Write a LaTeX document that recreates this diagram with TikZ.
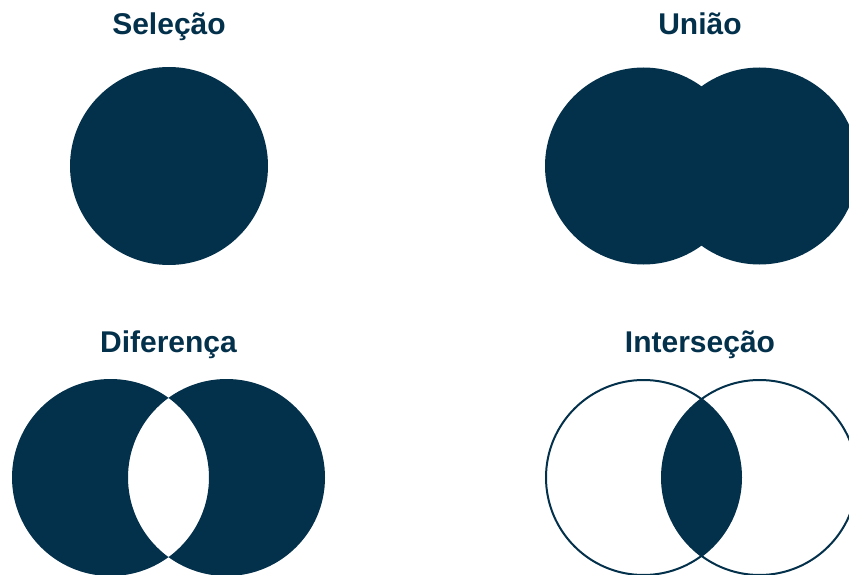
\documentclass[tikz,border=0pt]{standalone}
\usepackage{fontspec}
\setmainfont{Liberation Sans}
\definecolor{setnavy}{HTML}{03304A}

\begin{document}
\begin{tikzpicture}[x=1pt, y=-1pt,
    settitle/.style={font=\bfseries\fontsize{30}{36}\selectfont, text=setnavy, anchor=base, inner sep=0pt}]
    \useasboundingbox (0,0) rectangle (849,575);
    \clip (0,0) rectangle (849,575);
    % --- top left: selection (one full disc) ---
    \node[settitle] (selecao) at (169,35) {Seleção};
    \fill[setnavy] (169,166) circle (99pt);
    % --- top right: union (two overlapping discs) ---
    \node[settitle] (uniao) at (700,35) {União};
    \def\uniaoleft{(643.5,166) circle (98.5pt)}
    \def\uniaoright{(759.5,166) circle (98.5pt)}
    \fill[setnavy] \uniaoleft;
    \fill[setnavy] \uniaoright;
    % --- bottom left: difference (lens left empty) ---
    \node[settitle] (diferenca) at (168.5,352) {Diferença};
    \fill[setnavy, even odd rule] (110.5,477.5) circle (98.5pt) (226.5,477.5) circle (98.5pt);
    % --- bottom right: intersection (only the lens filled) ---
    \node[settitle] (intersecao) at (700,352) {Interseção};
    \def\interleft{(643.5,477.5) circle (97.5pt)}
    \def\interright{(759.5,477.5) circle (97.5pt)}
    \begin{scope}
        \clip \interleft;
        \fill[setnavy] \interright;
    \end{scope}
    \draw[setnavy, line width=2pt] \interleft;
    \draw[setnavy, line width=2pt] \interright;
\end{tikzpicture}
\end{document}
